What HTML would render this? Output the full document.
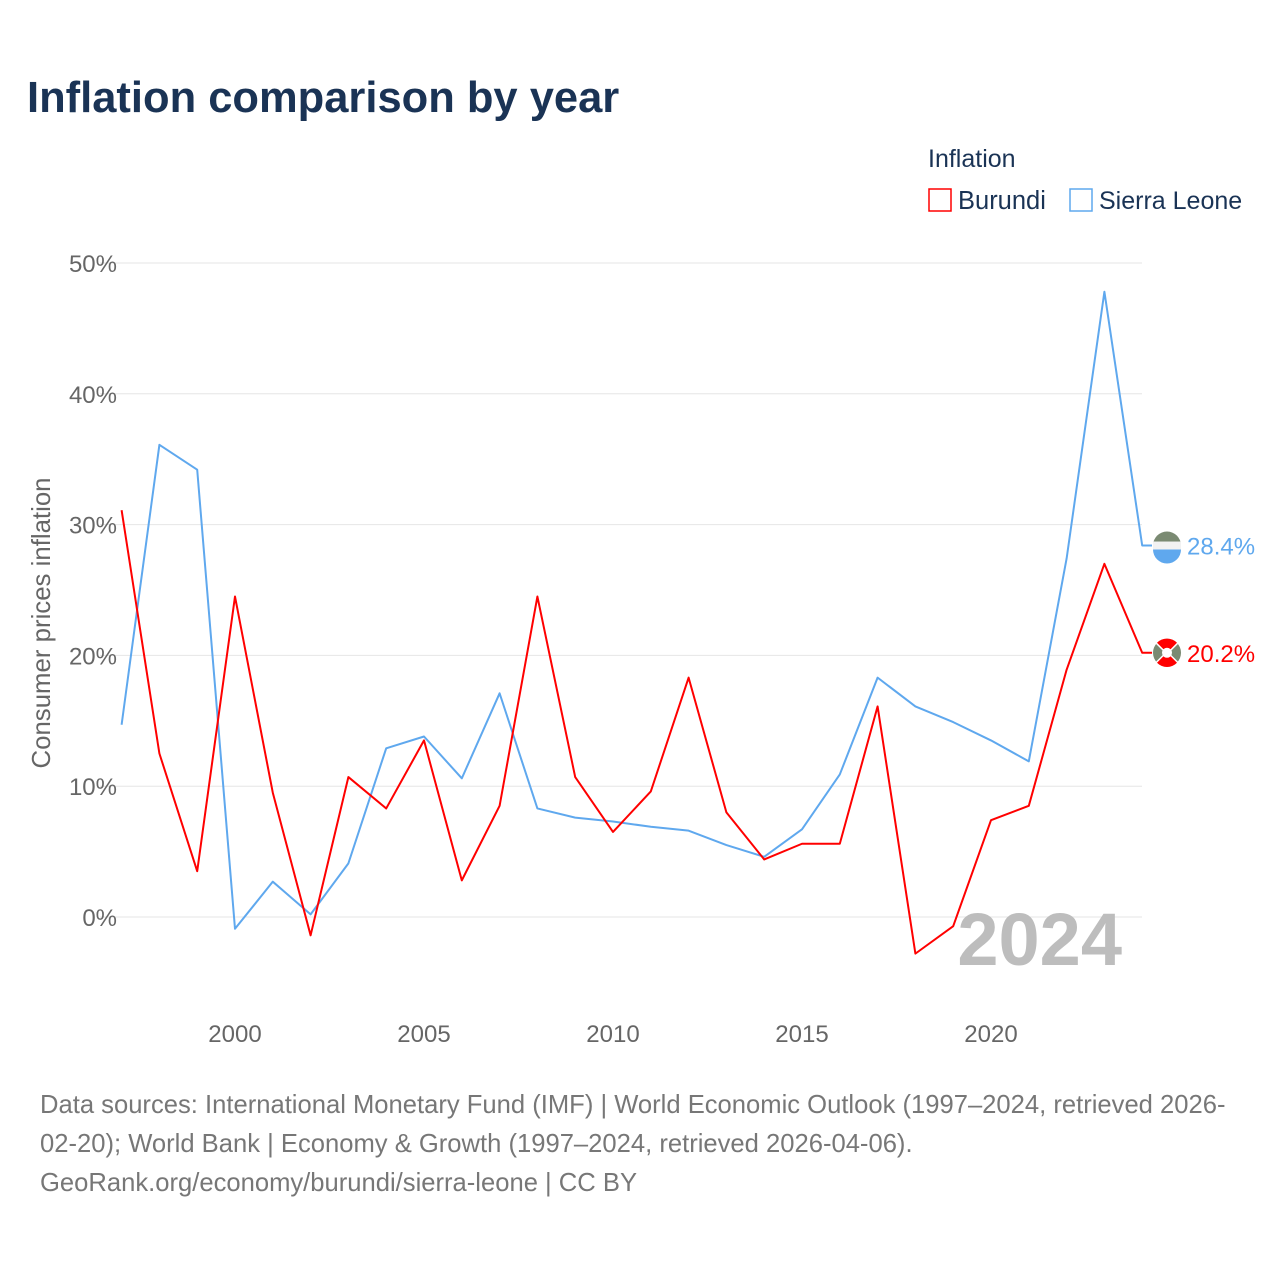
<!DOCTYPE html>
<html><head><meta charset="utf-8"><style>
body{margin:0;background:#fff;font-family:"Liberation Sans",sans-serif;}
</style></head><body>
<svg id="chart" width="1280" height="1280" xmlns="http://www.w3.org/2000/svg" style="display:block">
<rect width="1280" height="1280" fill="#fff"/>
<text x="27" y="112" font-size="43.5" font-weight="bold" fill="#1a3355">Inflation comparison by year</text>
<text x="928" y="167" font-size="25" fill="#1a3355">Inflation</text>
<g><rect x="929" y="189" width="22" height="22" fill="none" stroke="#ff0000" stroke-width="1.5"/><text x="958" y="209" font-size="25.5" fill="#1a3355">Burundi</text></g>
<g><rect x="1070" y="189" width="22" height="22" fill="none" stroke="#5fa8ee" stroke-width="1.5"/><text x="1099" y="209" font-size="25" fill="#1a3355">Sierra Leone</text></g>
<g id="grid"></g><g id="lines"></g>
<text x="1122" y="965" font-size="74" font-weight="bold" fill="#bdbdbd" text-anchor="end">2024</text>
<text transform="translate(50,623) rotate(-90)" font-size="25.8" fill="#666" text-anchor="middle">Consumer prices inflation</text>
<g font-size="25.6" fill="#777">
<text x="40" y="1113">Data sources: International Monetary Fund (IMF) | World Economic Outlook (1997–2024, retrieved 2026-</text>
<text x="40" y="1152">02-20); World Bank | Economy &amp; Growth (1997–2024, retrieved 2026-04-06).</text>
<text x="40" y="1191">GeoRank.org/economy/burundi/sierra-leone | CC BY</text>
</g>
</svg>
<script>
const years=[1997,1998,1999,2000,2001,2002,2003,2004,2005,2006,2007,2008,2009,2010,2011,2012,2013,2014,2015,2016,2017,2018,2019,2020,2021,2022,2023,2024];
const burundi=[31.1,12.5,3.5,24.5,9.5,-1.4,10.7,8.3,13.5,2.8,8.5,24.5,10.7,6.5,9.6,18.3,8.0,4.4,5.6,5.6,16.1,-2.8,-0.7,7.4,8.5,18.9,27.0,20.2];
const sierraLeone=[14.7,36.1,34.2,-0.9,2.7,0.2,4.1,12.9,13.8,10.6,17.1,8.3,7.6,7.3,6.9,6.6,5.5,4.6,6.7,10.9,18.3,16.1,14.9,13.5,11.9,27.4,47.8,28.4];
const yTicks=[0,10,20,30,40,50];
const xTicks=[2000,2005,2010,2015,2020];
const NS="http://www.w3.org/2000/svg";
const x=v=>235+(v-2000)*37.8;
const y=v=>917-v*13.08;
function mk(t,a,p){const e=document.createElementNS(NS,t);for(const k in a)e.setAttribute(k,a[k]);p.appendChild(e);return e;}
const g=document.getElementById('grid'),L=document.getElementById('lines');
yTicks.forEach(t=>{
 const l=mk('line',{x1:100,x2:1142,y1:y(t),y2:y(t),stroke:'#e6e6e6','stroke-width':1},g);
 
 
 const tx=mk('text',{x:117,y:y(t)+9,'font-size':24,fill:'#666','text-anchor':'end'},g);
 tx.textContent=t+'%';
 
 
});
xTicks.forEach(t=>{
 const tx=mk('text',{x:x(t),y:1042,'font-size':24,fill:'#666','text-anchor':'middle'},g);
 tx.textContent=t;
 
 
});
function series(vals,col,name){
 let d=vals.map((v,i)=>(i?'L':'M')+x(years[i])+','+y(v)).join(' ');
 const last=vals[vals.length-1];
 d+=' L1152,'+y(last);
 const p=mk('path',{d:d,fill:'none',stroke:col,'stroke-width':2,'stroke-linejoin':'round'},L);
 
 
 const c=mk('circle',{cx:1167,cy:y(last),r:14,fill:'#7a8a72'},L);
 
 
 if(name==='sierra-leone'){
  mk('rect',{x:1153,y:y(last)-4,width:28,height:8,fill:'#f2f2f2'},L);
  mk('path',{d:`M1153,${y(last)+4} L1181,${y(last)+4} A14,14 0 0 1 1153,${y(last)+4}Z`,fill:'#5fa8ee'},L);
 } else {
  mk('path',{d:`M1157,${y(last)-10} L1177,${y(last)+10} M1177,${y(last)-10} L1157,${y(last)+10}`,stroke:'#fff','stroke-width':3},L);
  mk('path',{d:`M1157,${y(last)-10} A14,14 0 0 1 1177,${y(last)-10} L1167,${y(last)}Z M1157,${y(last)+10} A14,14 0 0 0 1177,${y(last)+10} L1167,${y(last)}Z`,fill:'#ff0000'},L);
  mk('circle',{cx:1167,cy:y(last),r:5,fill:'#fff'},L);
 }
 const t=mk('text',{x:1187,y:y(last)+9,'font-size':24,fill:col},L);
 t.textContent=last.toFixed(1)+'%';
 
 
}
series(sierraLeone,'#5fa8ee','sierra-leone');
series(burundi,'#ff0000','burundi');
</script>
</body></html>
